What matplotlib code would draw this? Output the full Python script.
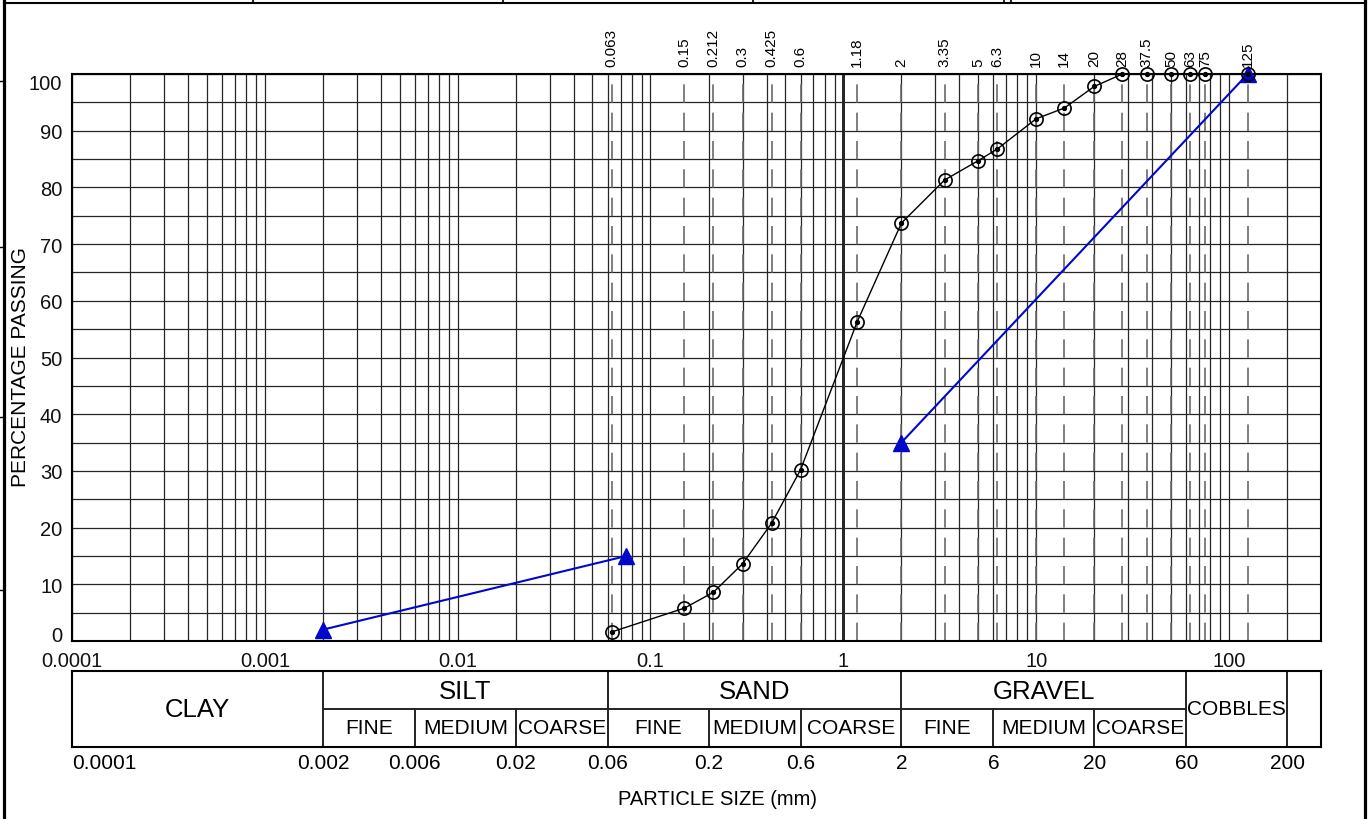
import matplotlib.pyplot as plt
import numpy as np
from matplotlib.ticker import FixedLocator, LogLocator, MultipleLocator, NullFormatter

plt.rcParams['font.family'] = ['Liberation Sans', 'DejaVu Sans']

# sieve analysis: aperture (mm) and percentage passing
sieve_mm = [0.063, 0.15, 0.212, 0.3, 0.425, 0.6, 1.18, 2, 3.35, 5, 6.3,
            10, 14, 20, 28, 37.5, 50, 63, 75, 125]
sieve_labels = ['0.063', '0.15', '0.212', '0.3', '0.425', '0.6', '1.18', '2',
                '3.35', '5', '6.3', '10', '14', '20', '28', '37.5', '50',
                '63', '75', '125']
passing = [1.6, 5.8, 8.6, 13.6, 20.8, 30.2, 56.3, 73.7, 81.3, 84.7, 86.8,
           92.1, 94.0, 97.8, 100, 100, 100, 100, 100, 100]

# grading envelope segments
env_fine_mm = [0.002, 0.075]
env_fine_pct = [2, 15]
env_coarse_mm = [2, 125]
env_coarse_pct = [35, 100]

xticks = [0.0001, 0.001, 0.01, 0.1, 1, 10, 100]
xtick_labels = ['0.0001', '0.001', '0.01', '0.1', '1', '10', '100']
yticks = list(range(0, 101, 10))

# soil classification table
band_edges = [0.0001, 0.002, 0.06, 2, 60, 200, 300]
band_names = ['CLAY', 'SILT', 'SAND', 'GRAVEL', 'COBBLES', '']
sub_edges = [0.002, 0.006, 0.02, 0.06, 0.2, 0.6, 2, 6, 20, 60]
sub_names = ['FINE', 'MEDIUM', 'COARSE'] * 3
bound_values = [0.0001, 0.002, 0.006, 0.02, 0.06, 0.2, 0.6, 2, 6, 20, 60, 200]
bound_labels = ['0.0001', '0.002', '0.006', '0.02', '0.06', '0.2', '0.6',
                '2', '6', '20', '60', '200']

W, H = 1370, 820
XMIN, XMAX = 0.0001, 300

fig = plt.figure(figsize=(W / 100, H / 100), dpi=100)

# page frame
frame = fig.add_axes([0, 0, 1, 1])
frame.set_xlim(0, W)
frame.set_ylim(H, 0)
frame.axis('off')
frame.plot([4.5, 4.5], [0, H], color='k', lw=2.3)
frame.plot([1365, 1365], [0, H], color='k', lw=2.3)
frame.plot([4, 1366], [4, 4], color='k', lw=1.5)
for xd in [253, 503, 753, 1004, 1011]:
    frame.plot([xd, xd], [0, 4], color='k', lw=1.2)
for yd in [82, 248, 418, 591]:
    frame.plot([0, 3], [yd, yd], color='k', lw=1)

# grading chart
ax = fig.add_axes([72 / W, (H - 642) / H, (1321 - 72) / W, (642 - 75) / H])
ax.set_xscale('log')
ax.set_xlim(XMIN, XMAX)
ax.set_ylim(0, 100)
ax.xaxis.set_major_locator(FixedLocator(xticks))
ax.set_xticklabels(xtick_labels)
ax.xaxis.set_minor_locator(LogLocator(base=10, subs=np.arange(2, 10), numticks=60))
ax.xaxis.set_minor_formatter(NullFormatter())
ax.set_yticks(yticks)
ax.yaxis.set_minor_locator(MultipleLocator(5))
ax.grid(which='both', color='#262626', lw=0.9, zorder=1)
ax.tick_params(which='both', length=0, labelsize=14.5, colors='#111')
ax.tick_params(axis='x', pad=7)
ax.tick_params(axis='y', pad=7)
ylabels = ax.get_yticklabels()
ylabels[0].set_va('baseline')
ylabels[-1].set_va('top')
for sp in ax.spines.values():
    sp.set_linewidth(1.5)

ax.axvline(1, color='#111', lw=2.0, zorder=1.5)
for s, lab in zip(sieve_mm, sieve_labels):
    ax.axvline(s, color='#6a6a6a', lw=1.2, dashes=(11, 6), zorder=1.6)
    ax.annotate(lab, xy=(s, 1), xycoords=('data', 'axes fraction'),
                xytext=(0, 6), textcoords='offset points', rotation=90,
                ha='center', va='bottom', fontsize=11)

blue = '#0008cc'
for xs, ys in [(env_fine_mm, env_fine_pct), (env_coarse_mm, env_coarse_pct)]:
    ax.plot(xs, ys, color=blue, lw=1.5, marker='^', ms=11, zorder=3,
            clip_on=False)

ax.plot(sieve_mm, passing, color='k', lw=1, marker='o', ms=9.5, mfc='none',
        mec='k', mew=1.2, zorder=4, clip_on=False)
ax.plot(sieve_mm, passing, ls='none', marker='o', ms=2.8, color='k',
        zorder=5, clip_on=False)

fig.text(21 / W, 1 - 367 / H, 'PERCENTAGE PASSING', rotation=90,
         ha='center', va='center', fontsize=15)

# classification table below the chart
tab = fig.add_axes([72 / W, (H - 748) / H, (1321 - 72) / W, (748 - 672) / H])
tab.set_xscale('log')
tab.set_xlim(XMIN, XMAX)
tab.set_ylim(0, 2)
tab.set_xticks([])
tab.set_yticks([])
tab.minorticks_off()
for sp in tab.spines.values():
    sp.set_linewidth(1.5)
line_c = '#222'
tab.plot([sub_edges[0], sub_edges[-1]], [1, 1], color=line_c, lw=1.4)
for e in band_edges[1:-1]:
    tab.plot([e, e], [0, 2], color=line_c, lw=1.4)
for e in sub_edges[1:-1]:
    if e not in band_edges:
        tab.plot([e, e], [0, 1], color=line_c, lw=1.4)

for name, lo, hi in zip(band_names, band_edges[:-1], band_edges[1:]):
    if not name:
        continue
    xc = np.sqrt(lo * hi)
    if name in ('CLAY', 'COBBLES'):
        fs = 18.5 if name == 'CLAY' else 15
        tab.text(xc, 1, name, ha='center', va='center', fontsize=fs)
    else:
        tab.text(xc, 1.48, name, ha='center', va='center', fontsize=18.5)
for name, lo, hi in zip(sub_names, sub_edges[:-1], sub_edges[1:]):
    tab.text(np.sqrt(lo * hi), 0.5, name, ha='center', va='center', fontsize=15)

for v, lab in zip(bound_values, bound_labels):
    tab.text(v, -0.42, lab, ha='left' if v == XMIN else 'center',
             va='center', fontsize=15)

fig.text(717 / W, 1 - 800 / H, 'PARTICLE SIZE (mm)', ha='center',
         va='center', fontsize=14.5)

fig.savefig('out.png', dpi=100)
